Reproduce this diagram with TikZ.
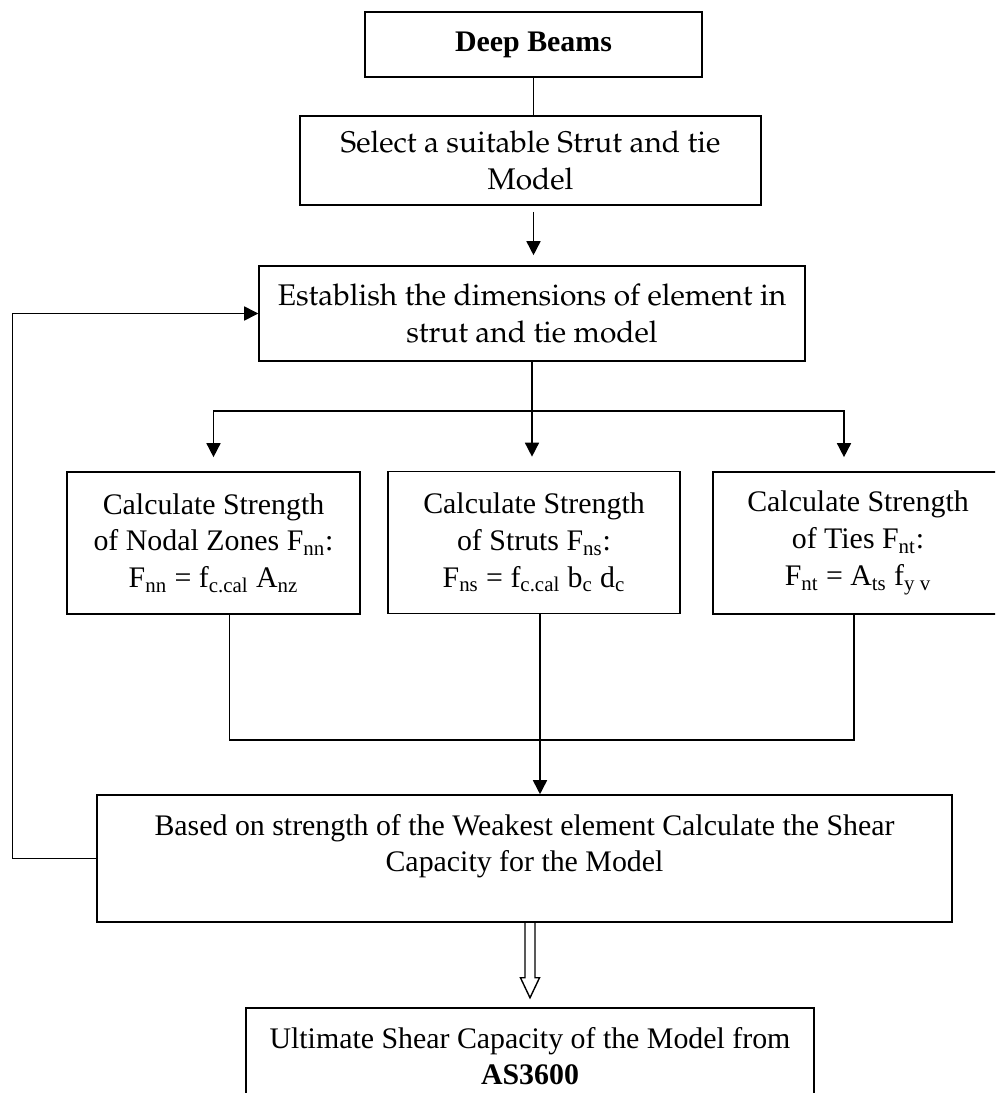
\documentclass[tikz,border=0pt]{standalone}
\usepackage{fontspec}
\setmainfont{Liberation Serif}
\usetikzlibrary{arrows.meta}

% Palatino-like face for the two upper step boxes
\newcommand{\palafont}{\fontencoding{T1}\fontfamily{ppl}\fontsize{17}{21}\selectfont}

\begin{document}
\begin{tikzpicture}[x=0.02cm, y=-0.02cm, line width=0.9pt,
  font=\fontsize{17}{21}\selectfont,
  stepbox/.style={draw, rectangle, inner sep=0pt, align=center},
  arr/.style={-{Triangle[width=8pt,length=8pt]}}]
  \useasboundingbox (0,0) rectangle (995,1093);
  \clip (0,0) rectangle (995,1093);

  \node[stepbox, minimum width=6.74cm, minimum height=1.3cm] (beams) at (533.5,44.5) {\textbf{Deep Beams}};
  \node[stepbox, minimum width=9.22cm, minimum height=1.78cm, font=\palafont] (select) at (530.5,160.5)
    {Select a suitable Strut and tie\\ Model};
  \node[stepbox, minimum width=10.92cm, minimum height=1.9cm, font=\palafont] (establish) at (532,313.5)
    {Establish the dimensions of element in\\ strut and tie model};

  % the three strength checks
  \node[stepbox, minimum width=5.86cm, minimum height=2.84cm] (nodal) at (213.5,543)
    {Calculate Strength\\ of Nodal Zones F\textsubscript{nn}:\\ F\textsubscript{nn} = f\textsubscript{c.cal} A\textsubscript{nz}};
  \node[stepbox, minimum width=5.84cm, minimum height=2.84cm] (struts) at (534,542.5)
    {Calculate Strength\\ of Struts F\textsubscript{ns}:\\ F\textsubscript{ns} = f\textsubscript{c.cal} b\textsubscript{c} d\textsubscript{c}};
  \node[stepbox, minimum width=5.8cm, minimum height=2.84cm] (ties) at (858,543)
    {Calculate Strength\\ of Ties F\textsubscript{nt}:\\ F\textsubscript{nt} = A\textsubscript{ts} f\textsubscript{y v}};

  \node[stepbox, minimum width=17.1cm, minimum height=2.54cm] (based) at (524.5,858.5)
    {\parbox[c][1.78cm][t]{16.5cm}{\centering Based on strength of the Weakest element Calculate the Shear\\ Capacity for the Model}};
  \node[stepbox, minimum width=11.36cm, minimum height=2.54cm] (ultimate) at (530,1071.5)
    {\parbox[c][1.78cm][t]{11cm}{\centering Ultimate Shear Capacity of the Model from\\ \textbf{AS3600}}};

  \draw (beams.south) -- (beams.south |- select.north);
  \draw[arr, shorten <=3.4pt, shorten >=5.7pt] (beams.south |- select.south) -- (beams.south |- establish.north);

  % split into the three checks
  \draw (establish.south) -- ++(0,49) coordinate (fork);
  \draw[arr, shorten >=8pt] (fork) -| (nodal.north);
  \draw[arr, shorten >=8pt] (fork) -- (fork |- struts.north);
  \draw[arr, shorten >=8pt] (fork) -| ([xshift=-0.28cm]ties.north);

  % gather them again
  \draw ([xshift=0.32cm]nodal.south) -- ++(0,125) -| ([xshift=-0.08cm]ties.south);
  \draw ([xshift=0.12cm]struts.south) -- ++(0,126) coordinate (merge);
  \draw[arr] (merge) -- (merge |- based.north);

  % back to the dimensions step
  \draw[arr] (based.west) -- ++(-84,0) |- (establish.west);

  % hollow arrow down to the final step
  \draw[line width=0.8pt] ([xshift=0.01cm]based.south) -- ++(0,55) -- ++(-4.5,0) -- ++(9.5,20)
    -- ++(9.5,-20) -- ++(-4.5,0) -- ++(0,-55);
\end{tikzpicture}
\end{document}
